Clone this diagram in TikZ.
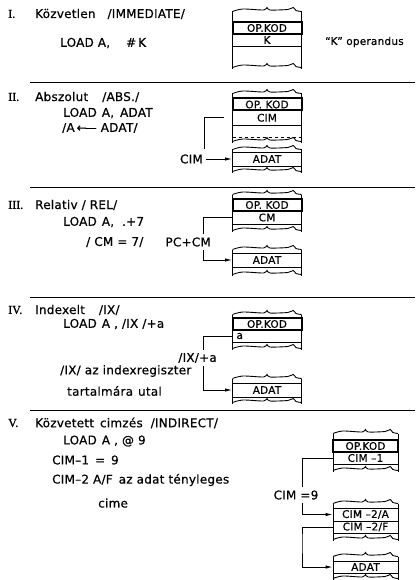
\documentclass[tikz,border=0pt]{standalone}
\usepackage{fontspec}
\setmainfont{DejaVu Sans}[LetterSpace=2, FakeBold=0.5]
\newfontfamily\romanfont{Liberation Serif}[FakeBold=1]
\usetikzlibrary{arrows.meta,positioning,calc}

% torn edge of a memory strip: x1, x2, y
\newcommand{\tornline}[3]{%
  \draw[line width=0.9pt] plot[smooth, tension=0.5] coordinates {(#1,{#3+1.5}) ({#1+0.15*(#2-#1)},{#3-1}) ({#1+0.45*(#2-#1)},{#3}) ({#1+0.5*(#2-#1)},{#3-2.5}) ({#1+0.54*(#2-#1)},{#3}) ({#1+0.8*(#2-#1)},{#3-0.5}) ({#1+0.88*(#2-#1)},{#3-2.5}) ({#1+0.92*(#2-#1)},{#3+0.5}) (#2,{#3+1.5})};}
% memory strip: x1, x2, ytop, ybottom
\newcommand{\memcol}[4]{%
  \draw[line width=0.9pt] (#1,{#3+1.5}) -- (#1,{#4+3}) (#2,{#3+1.5}) -- (#2,{#4+3});
  \tornline{#1}{#2}{#3}
  \tornline{#1}{#2}{#4}}

\begin{document}
\begin{tikzpicture}[x=1pt, y=-1pt,
    every node/.style={font=\fontsize{12}{14}\selectfont, inner sep=0pt},
    txt/.style={anchor=west},
    numeral/.style={anchor=west, font=\romanfont\fontsize{12}{14}\selectfont},
    cell/.style={draw, line width=0.9pt, minimum width=69pt, minimum height=13pt, font=\fontsize{10.5}{11}\selectfont},
    opcell/.style={cell, line width=2pt, minimum height=12pt},
    link/.style={line width=0.9pt},
    arr/.style={link, -{Latex[length=7pt,width=3.5pt]}},
    sep/.style={line width=1pt}]
\useasboundingbox (0,0) rectangle (418,580);

% I. immediate
\node[numeral] (numI) at (8,14) {I.};
\node[txt] (headI) at (35,14) {Közvetlen\hspace{12pt}/IMMEDIATE/};
\node[txt] (loadI) at (60,43) {LOAD\hspace{4pt}A,\hspace{16pt}\#\,K};
\node[opcell] (opI) at (267,28) {OP.KOD};
\node[cell, minimum height=12pt] (kI) at (267,40) {K};
\memcol{232.5}{301.5}{10}{66}
\node[txt, font=\fontsize{10.5}{12}\selectfont] (operI) at (325,42) {“K” operandus};

\draw[sep] (30,83) -- (415,83);

% II. absolute
\node[numeral] (numII) at (8,97) {II.};
\node[txt] (headII) at (35,97) {Abszolut\hspace{14pt}/ABS./};
\node[txt] (loadII) at (63,113) {LOAD\hspace{5pt}A,\hspace{6pt}ADAT};
\node[txt] (noteII) at (62,128) {/A\,←\kern-2pt—\hspace{4pt}ADAT/};
\node[opcell] (opII) at (267,104.5) {OP. KOD};
\node[cell, minimum height=14.5pt] (cimII) at (267,117.75) {CIM};
\draw[dashed, line width=0.8pt] (232.5,137) -- (301.5,137);
\memcol{232.5}{301.5}{92}{140}
\node[cell, minimum height=14pt] (adatII) at (267,159) {ADAT};
\memcol{232.5}{301.5}{148}{170}
\node[anchor=east] (lblII) at (203,159) {CIM};
\coordinate (jII) at (204,149);
\draw[link] ([xshift=-8pt]cimII.west) -| (jII);
\draw[arr] ([xshift=3pt]lblII.east) -- (adatII.west);

\draw[sep] (30,187) -- (415,187);

% III. relative
\node[numeral] (numIII) at (8,205) {III.};
\node[txt] (headIII) at (35,205) {Relativ / REL/};
\node[txt] (loadIII) at (63,222) {LOAD\hspace{5pt}A,\hspace{8pt}.+7};
\node[txt] (eqIII) at (86,242) {/ CM = 7/};
\node[opcell] (opIII) at (267,205) {OP. KOD};
\node[cell, minimum height=13pt] (cmIII) at (267,217.5) {CM};
\memcol{232.5}{301.5}{193}{229}
\node[cell, minimum height=14pt] (adatIII) at (267,260) {ADAT};
\memcol{232.5}{301.5}{248}{273}
\node[anchor=east] (lblIII) at (211,242) {PC+CM};
\coordinate (jIIIa) at (203,234);
\coordinate (jIIIb) at (203,250);
\draw[link] (cmIII.west) -| (jIIIa);
\draw[arr] (jIIIb) |- (adatIII.west);

\draw[sep] (30,297) -- (415,297);

% IV. indexed
\node[numeral] (numIV) at (8,310) {IV.};
\node[txt] (headIV) at (35,310) {Indexelt\hspace{14pt}/IX/};
\node[txt] (loadIV) at (63,324) {LOAD\hspace{5pt}A , /IX /+a};
\node[txt] (ixIV) at (60,371) {/IX/ az indexregiszter};
\node[txt] (tartIV) at (67,391) {tartalmára\hspace{5pt}utal};
\node[opcell] (opIV) at (267,324) {OP.KOD};
\node[cell, minimum height=12pt, text width=61pt, inner xsep=4pt, align=left] (aIV) at (267,336) {a};
\memcol{232.5}{301.5}{313}{347}
\node[cell, minimum height=14pt] (adatIV) at (267,390) {ADAT};
\memcol{232.5}{301.5}{377}{401}
\node[anchor=east] (lblIV) at (217,358) {/IX/+a};
\coordinate (jIVa) at (203,350);
\coordinate (jIVb) at (203,366);
\draw[link] (aIV.west) -| (jIVa);
\draw[arr] (jIVb) |- (adatIV.west);

\draw[sep] (30,410) -- (415,410);

% V. indirect
\node[numeral] (numV) at (8,423) {V.};
\node[txt] (headV) at (35,423) {Közvetett\hspace{6pt}cimzés\hspace{8pt}/INDIRECT/};
\node[txt] (loadV) at (63,441) {LOAD\hspace{5pt}A , @ 9};
\node[txt] (cimaV) at (52,460) {CIM–1\hspace{6pt}=\hspace{6pt}9};
\node[txt] (cimbV) at (52,480) {CIM–2 A/F\hspace{6pt}az adat tényleges};
\node[txt] (cimeV) at (98,503) {cime};
\node[opcell, minimum width=65pt] (opV) at (365.5,446) {OP.KOD};
\node[cell, minimum width=65pt, minimum height=12pt] (c1V) at (365.5,458) {CIM –1};
\memcol{333}{398}{432}{469}
\node[cell, minimum width=65pt] (c2aV) at (365.5,514.5) {CIM –2/A};
\node[cell, minimum width=65pt, minimum height=12pt] (c2fV) at (365.5,527) {CIM –2/F};
\memcol{333}{398}{502}{538}
\node[cell, minimum width=65pt, minimum height=12pt] (adatV) at (365.5,567) {ADAT};
\memcol{333}{398}{555}{577}
\node (lblV) at (296,495) {CIM =9};
\coordinate (jVa) at (302,487);
\coordinate (jVb) at (302,503);
\coordinate (jVc) at (302,540);
\draw[link] (c1V.west) -| (jVa);
\draw[arr] (jVb) |- (c2aV.west);
\draw[arr] (c2fV.west) -| (jVc) |- (adatV.west);
\end{tikzpicture}
\end{document}
